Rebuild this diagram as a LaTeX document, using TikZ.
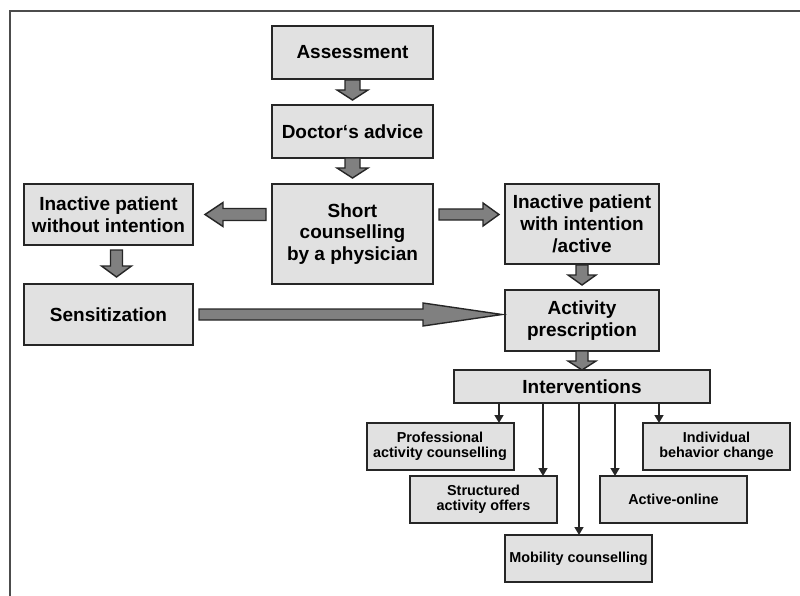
\documentclass[tikz,border=0pt]{standalone}
\usepackage{fontspec}
\setmainfont{Liberation Sans}
\usepackage{tikz}
\usetikzlibrary{positioning, calc, arrows.meta}
\definecolor{boxfill}{HTML}{E1E1E1}
\definecolor{boxline}{HTML}{262626}
\definecolor{arrowfill}{HTML}{808080}
\tikzstyle{centrebox} = [rectangle, minimum width=161pt, minimum height=53pt, align=center, draw=boxline, fill=boxfill, line width=2pt, inner sep=0pt, outer sep=0pt, font=\bfseries\fontsize{19}{21.7}\selectfont]
\tikzstyle{leftbox} = [centrebox, minimum width=169pt, minimum height=61pt]
\tikzstyle{rightbox} = [centrebox, minimum width=154pt, minimum height=61pt]
\tikzstyle{widebox} = [centrebox, minimum width=256pt, minimum height=33pt]
\tikzstyle{smallbox} = [centrebox, minimum width=147pt, minimum height=47pt, font=\bfseries\fontsize{14.4}{15}\selectfont]
\tikzstyle{blockarrow} = [draw=boxline, fill=arrowfill, line width=1.4pt]
\tikzstyle{thinarrow} = [line width=1.5pt, draw=boxline, -{Triangle[length=8pt,width=9pt]}]
% fat = shaft half width, head half width, head length, gap at start, gap at tip
\tikzset{fat/.style n args={5}{to path={
  let \p1=($(\tikztostart)!#4!(\tikztotarget)$),
      \p2=($(\tikztotarget)!#5!(\tikztostart)$),
      \p3=($(\p2)!#3!(\p1)$) in
  ($(\p1)!#1!90:(\p2)$) -- ($(\p3)!#1!90:(\p2)$) -- ($(\p3)!#2!90:(\p2)$) -- (\p2)
  -- ($(\p3)!#2!-90:(\p2)$) -- ($(\p3)!#1!-90:(\p2)$) -- ($(\p1)!#1!-90:(\p2)$) -- cycle}}}

\begin{document}
\begin{tikzpicture}[x=1pt, y=-1pt]
\useasboundingbox (0,0) rectangle (800,596);
\draw[line width=2pt, draw=black!70] (10,596) -- (10,11) -- (800,11);

\node (assess) [centrebox] at (352.5,52.5) {Assessment};
\node (advice) [centrebox, below=26pt of assess] {Doctor‘s advice};
\node (couns) [centrebox, below=26pt of advice, minimum height=100pt] {Short\\counselling\\by a physician};
\node (woi) [leftbox, left=79pt of couns, yshift=19.5pt] {Inactive patient\\without intention};
\node (sens) [leftbox, below=39pt of woi] {Sensitization};
\node (wi) [rightbox, right=72pt of couns, yshift=10pt, minimum height=80pt] {Inactive patient\\with intention\\/active};
\node (act) [rightbox, below=26pt of wi] {Activity\\prescription};
\node (int) [widebox, below=19pt of act] {Interventions};

\node (prof) [smallbox, below=20pt of int, xshift=-142pt] {Professional\\activity counselling};
\node (indiv) [smallbox, below=20pt of int, xshift=134.5pt] {Individual\\behavior change};
\node (struct) [smallbox, below=6pt of prof, xshift=43.5pt] {Structured\\activity offers};
\node (online) [smallbox, below=6pt of indiv, xshift=-43pt] {Active-online};
\node (mob) [smallbox, below=12pt of struct, xshift=95pt] {Mobility counselling};

\draw[blockarrow, fat={7.5pt}{15.5pt}{10pt}{1pt}{5pt}] (assess.south) to (advice.north);
\draw[blockarrow, fat={7.5pt}{15.5pt}{10pt}{0pt}{6pt}] (advice.south) to (couns.north);
\draw[blockarrow, fat={6pt}{12pt}{18pt}{6pt}{12pt}] (couns.west |- woi) to (woi.east);
\draw[blockarrow, fat={5.5pt}{11.5pt}{16pt}{6pt}{6pt}] (couns.east |- woi) to (wi.west |- woi);
\draw[blockarrow, fat={6pt}{15pt}{11pt}{5pt}{7pt}] ([xshift=8pt]woi.south) to ([xshift=8pt]sens.north);
\draw[blockarrow, fat={5.5pt}{11.5pt}{79pt}{6pt}{3pt}] (sens.east) to (sens.east -| act.west);
\draw[blockarrow, fat={6pt}{14pt}{10pt}{1pt}{5pt}] (wi.south) to (act.north);
\draw[blockarrow, fat={6pt}{14pt}{9pt}{0pt}{0pt}] (act.south) to (int.north);

\coordinate (prof_in) at ([xshift=-14.5pt]prof.north east);
\coordinate (struct_in) at ([xshift=-14pt]struct.north east);
\coordinate (mob_in) at ([xshift=0.5pt]mob.north);
\coordinate (online_in) at ([xshift=15pt]online.north west);
\coordinate (indiv_in) at ([xshift=16pt]indiv.north west);

\draw[thinarrow] (int.south -| prof_in) -- (prof_in);
\draw[thinarrow] (int.south -| struct_in) -- (struct_in);
\draw[thinarrow] (int.south -| mob_in) -- (mob_in);
\draw[thinarrow] (int.south -| online_in) -- (online_in);
\draw[thinarrow] (int.south -| indiv_in) -- (indiv_in);
\end{tikzpicture}
\end{document}
